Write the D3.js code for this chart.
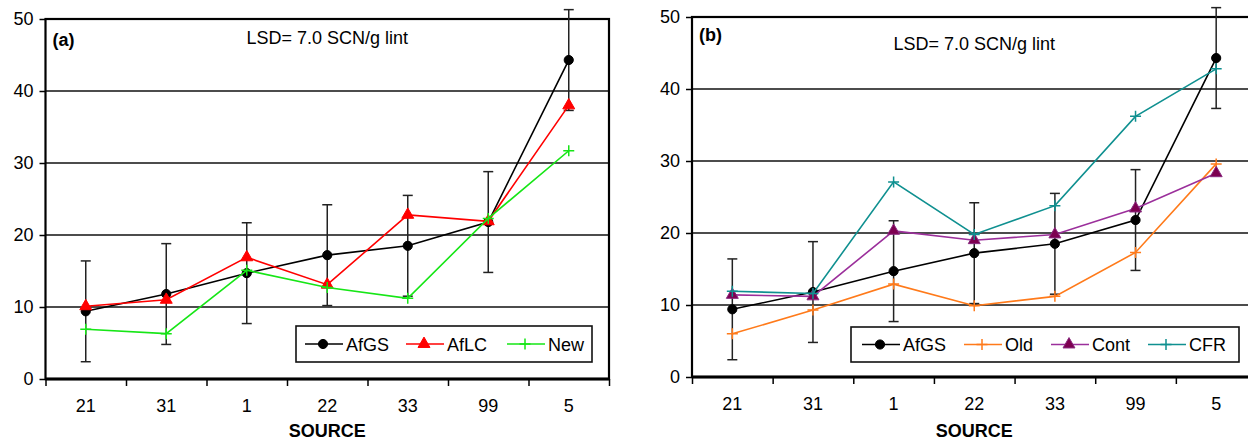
<!DOCTYPE html>
<html>
<head>
<meta charset="utf-8">
<script src="https://cdn.jsdelivr.net/npm/d3@7/dist/d3.min.js"></script>
<style>
  html, body { margin: 0; padding: 0; background: #fff; }
  svg { display: block; font-family: "Liberation Sans", Arial, sans-serif; }
</style>
</head>
<body>
<svg id="chart" width="1248" height="442"></svg>
<script>
// Source entries along the x axis
const categories = ["21", "31", "1", "22", "33", "99", "5"];

// Mean SCN/g lint per source, one array per group
const afgs    = [9.4, 11.8, 14.7, 17.2, 18.5, 21.8, 44.3];
const aflc    = [10.1, 11.0, 16.9, 13.1, 22.8, 21.9, 38.0];
const newSrc  = [6.9, 6.3, 15.1, 12.7, 11.2, 22.3, 31.7];
const oldSrc  = [6.0, 9.3, 12.9, 9.9, 11.2, 17.3, 29.6];
const contSrc = [11.4, 11.2, 20.3, 19.0, 19.8, 23.4, 28.3];
const cfrSrc  = [11.9, 11.6, 27.1, 19.8, 23.8, 36.2, 42.8];

// Least significant difference, drawn as bars around AfGS
const lsd = 7.0;
const lsdText = "LSD= 7.0 SCN/g lint";

const yTicks = [0, 10, 20, 30, 40, 50];
const gridTicks = [10, 20, 30, 40];
const xTitle = "SOURCE";

const svg = d3.select("#chart");
const FONT = 18;

const plusPath = "M-5.5,0H5.5M0,-5.5V5.5";
const markers = {
  circle:   { d: d3.symbol(d3.symbolCircle, 66)(), filled: true },
  triangle: { d: d3.symbol(d3.symbolTriangle, 62)(), filled: true },
  plus:     { d: plusPath, filled: false }
};

function drawMarker(g, kind, color, fill) {
  const m = markers[kind];
  return g.append("path")
    .attr("d", m.d)
    .attr("fill", m.filled ? (fill || color) : "none")
    .attr("stroke", color)
    .attr("stroke-width", m.filled ? 1 : 1.5);
}

function drawPanel(p) {
  const g = svg.append("g");
  const y = d3.scaleLinear().domain([0, 50]).range([p.bottom, p.top]);
  const xBand = d3.scaleBand().domain(categories).range([p.left, p.right]);
  const xEdge = d3.scaleLinear().domain([0, categories.length]).range([p.left, p.right]);
  const cx = c => xBand(c) + xBand.bandwidth() / 2;

  // horizontal gridlines
  g.append("g").selectAll("line").data(gridTicks).join("line")
    .attr("x1", p.left).attr("x2", p.right)
    .attr("y1", d => y(d)).attr("y2", d => y(d))
    .attr("stroke", "#111").attr("stroke-width", 1.3);

  // y axis
  const ya = g.append("g").attr("transform", `translate(${p.left},0)`)
    .call(d3.axisLeft(y).tickValues(yTicks).tickSize(6).tickPadding(6));
  ya.select(".domain").remove();
  ya.selectAll("line").attr("stroke", "#000").attr("stroke-width", 1.5);
  ya.selectAll("text").attr("font-size", FONT).attr("fill", "#000")
    .attr("font-family", "Liberation Sans, Arial, sans-serif");

  // x axis: category labels and boundary ticks
  const xa = g.append("g").attr("transform", `translate(0,${p.bottom})`)
    .call(d3.axisBottom(xBand).tickSize(0).tickPadding(20));
  xa.select(".domain").remove();
  xa.selectAll("text").attr("font-size", FONT).attr("fill", "#000")
    .attr("font-family", "Liberation Sans, Arial, sans-serif");
  const xt = g.append("g").attr("transform", `translate(0,${p.bottom})`)
    .call(d3.axisBottom(xEdge).tickValues(d3.range(categories.length + 1)).tickFormat("").tickSize(7));
  xt.select(".domain").remove();
  xt.selectAll("line").attr("stroke", "#000").attr("stroke-width", 1.5);

  // plot frame
  g.append("rect")
    .attr("x", p.left).attr("y", p.top)
    .attr("width", p.right - p.left).attr("height", p.bottom - p.top)
    .attr("fill", "none").attr("stroke", "#000").attr("stroke-width", 2.2);
  g.append("line")
    .attr("x1", p.left).attr("x2", p.right)
    .attr("y1", y(0)).attr("y2", y(0))
    .attr("stroke", "#000").attr("stroke-width", 2.8);

  // panel tag and LSD note
  g.append("text").attr("x", p.left + 7).attr("y", p.tagY)
    .attr("font-size", FONT).attr("font-weight", "bold").text(p.tag);
  g.append("text").attr("x", (p.left + p.right) / 2).attr("y", p.lsdY)
    .attr("text-anchor", "middle").attr("font-size", FONT).text(lsdText);

  // axis title
  g.append("text").attr("x", (p.left + p.right) / 2).attr("y", 437)
    .attr("text-anchor", "middle").attr("font-size", FONT).attr("font-weight", "bold")
    .text(xTitle);

  const line = d3.line().x((d, i) => cx(categories[i])).y(d => y(d));

  p.series.forEach(s => {
    // LSD bars around the reference group
    if (s.errorBars) {
      const eb = g.append("g").attr("stroke", "#222").attr("stroke-width", 1.5);
      s.values.forEach((v, i) => {
        const x = cx(categories[i]);
        eb.append("line").attr("x1", x).attr("x2", x).attr("y1", y(v - lsd)).attr("y2", y(v + lsd));
        eb.append("line").attr("x1", x - 5).attr("x2", x + 5).attr("y1", y(v - lsd)).attr("y2", y(v - lsd));
        eb.append("line").attr("x1", x - 5).attr("x2", x + 5).attr("y1", y(v + lsd)).attr("y2", y(v + lsd));
      });
    }
    g.append("path").datum(s.values)
      .attr("d", line).attr("fill", "none")
      .attr("stroke", s.color).attr("stroke-width", 1.6);
    s.values.forEach((v, i) => {
      drawMarker(g, s.marker, s.markerStroke || s.color, s.fill)
        .attr("transform", `translate(${cx(categories[i])},${y(v)})`);
    });
  });

  // legend
  const L = p.legend;
  g.append("rect").attr("x", L.x).attr("y", L.y).attr("width", L.w).attr("height", L.h)
    .attr("fill", "#fff").attr("stroke", "#111").attr("stroke-width", 1.6);
  const midY = L.y + L.h / 2;
  p.series.forEach((s, i) => {
    const lx = L.entryX[i];
    g.append("line").attr("x1", lx).attr("x2", lx + 38).attr("y1", midY).attr("y2", midY)
      .attr("stroke", s.color).attr("stroke-width", 1.6);
    drawMarker(g, s.marker, s.markerStroke || s.color, s.fill)
      .attr("transform", `translate(${lx + 18},${midY})`);
    g.append("text").attr("x", lx + 41).attr("y", midY + 6.5)
      .attr("font-size", FONT).text(s.name);
  });
}

drawPanel({
  left: 45.5, right: 609, top: 19, bottom: 379,
  tag: "(a)", tagY: 46, lsdY: 44,
  series: [
    { name: "AfGS", values: afgs, color: "#000", marker: "circle", errorBars: true },
    { name: "AfLC", values: aflc, color: "#ff0000", marker: "triangle" },
    { name: "New", values: newSrc, color: "#16e616", marker: "plus" }
  ],
  legend: { x: 296, y: 326, w: 296, h: 36, entryX: [305, 406, 507] }
});

drawPanel({
  left: 692, right: 1256.5, top: 17, bottom: 377,
  tag: "(b)", tagY: 41, lsdY: 50,
  series: [
    { name: "AfGS", values: afgs, color: "#000", marker: "circle", errorBars: true },
    { name: "Old", values: oldSrc, color: "#ff7a1a", marker: "plus" },
    { name: "Cont", values: contSrc, color: "#9b2f9b", marker: "triangle", fill: "#7d0050", markerStroke: "#8a2a80" },
    { name: "CFR", values: cfrSrc, color: "#0f9090", marker: "plus" }
  ],
  legend: { x: 851, y: 327, w: 388, h: 35, entryX: [862, 964, 1051, 1148] }
});
</script>
</body>
</html>
